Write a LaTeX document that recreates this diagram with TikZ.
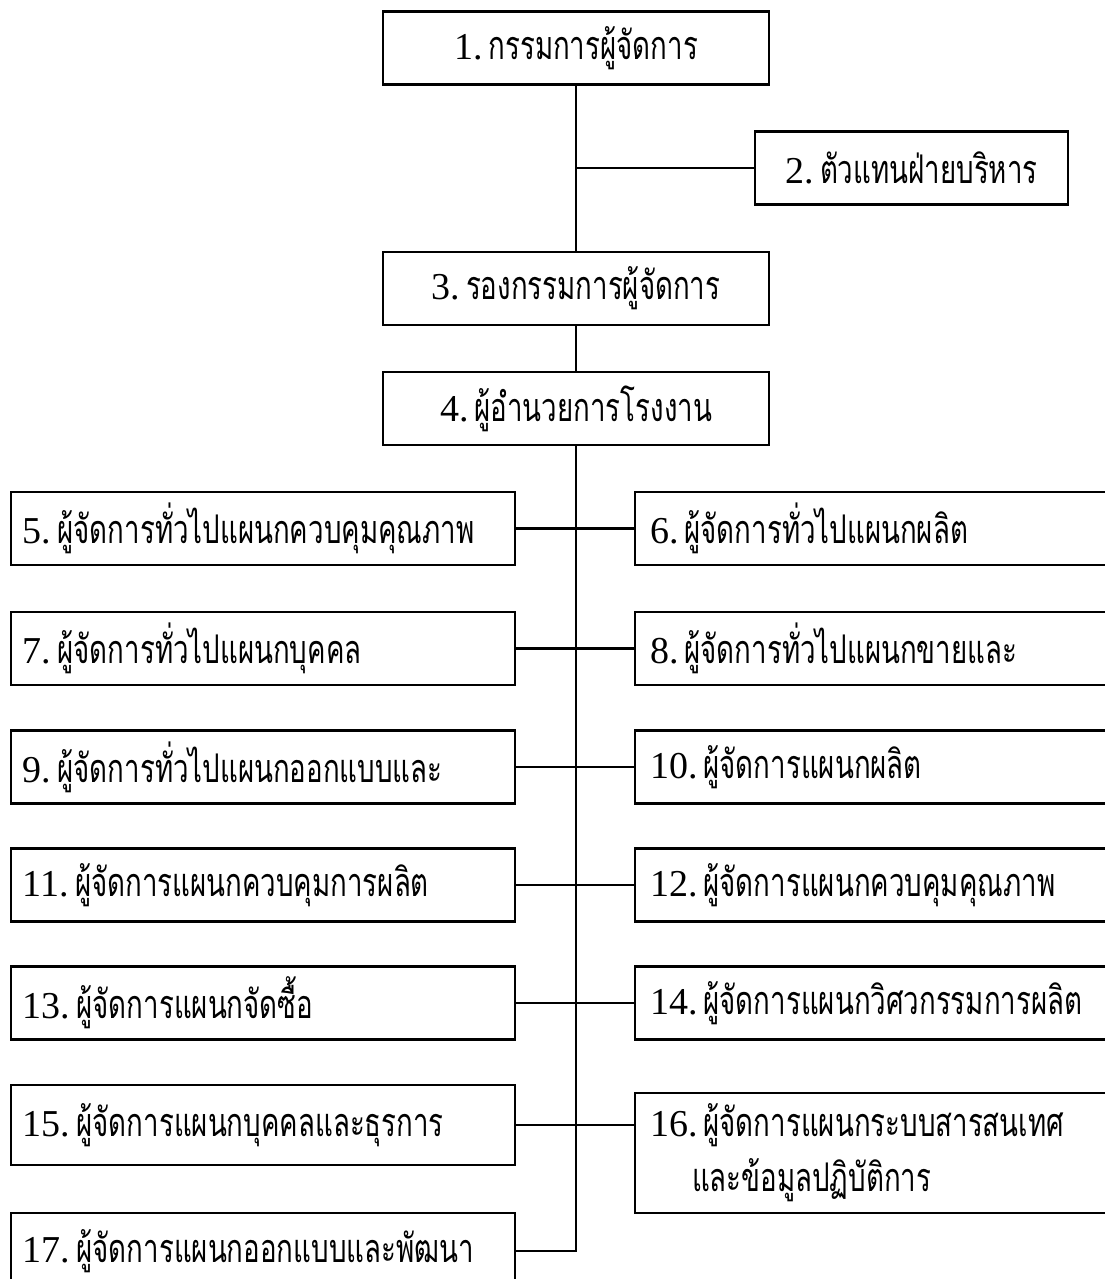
\documentclass[tikz,border=0pt]{standalone}
\usepackage{fontspec}
\setmainfont{Liberation Serif}
\newfontfamily\thaifont[Script=Thai,FakeStretch=0.7,Scale=1.04]{Loma}
\usetikzlibrary{positioning}

\tikzset{
    post/.style={draw, line width=1.2pt, minimum height=36.5pt, inner ysep=0pt,
        font=\fontsize{19}{27.5}\selectfont},
    toppost/.style={post, minimum width=193pt},
    leftpost/.style={post, inner xsep=6pt, text width=240pt, align=left},
    rightpost/.style={post, inner xsep=7.5pt, text width=237pt, align=left},
    link/.style={line width=1.2pt}
}
\newcommand{\nr}[1]{#1.\hspace{3pt}\thaifont}

\begin{document}
\begin{tikzpicture}[x=0.5pt,y=-0.5pt]
            \useasboundingbox (0,0) rectangle (1104,1279);

            \node[toppost] (md) at (576,48) {\nr{1}กรรมการผู้จัดการ};
            \node[toppost, minimum width=156.5pt] (rep) at (911.5,168) {\nr{2}ตัวแทนฝ่ายบริหาร};
            \node[toppost] (dmd) at (576,288.5) {\nr{3}รองกรรมการผู้จัดการ};
            \node[toppost] (fd) at (576,408.5) {\nr{4}ผู้อำนวยการโรงงาน};

            \node[leftpost] (m5) at (263,528.5) {\nr{5}ผู้จัดการทั่วไปแผนกควบคุมคุณภาพ};
            \node[rightpost] (m6) at (887,528.5) {\nr{6}ผู้จัดการทั่วไปแผนกผลิต};
            \node[leftpost] (m7) at (263,648.5) {\nr{7}ผู้จัดการทั่วไปแผนกบุคคล};
            \node[rightpost] (m8) at (887,648.5) {\nr{8}ผู้จัดการทั่วไปแผนกขายและ};
            \node[leftpost] (m9) at (263,767) {\nr{9}ผู้จัดการทั่วไปแผนกออกแบบและ};
            \node[rightpost] (m10) at (887,767) {\nr{10}ผู้จัดการแผนกผลิต};
            \node[leftpost] (m11) at (263,885) {\nr{11}ผู้จัดการแผนกควบคุมการผลิต};
            \node[rightpost] (m12) at (887,885) {\nr{12}ผู้จัดการแผนกควบคุมคุณภาพ};
            \node[leftpost] (m13) at (263,1003) {\nr{13}ผู้จัดการแผนกจัดซื้อ};
            \node[rightpost] (m14) at (887,1003) {\nr{14}ผู้จัดการแผนกวิศวกรรมการผลิต};
            \node[leftpost, minimum height=40pt] (m15) at (263,1125) {\nr{15}ผู้จัดการแผนกบุคคลและธุรการ};
            \node[rightpost, minimum height=60pt] (m16) at (887,1153) {\nr{16}ผู้จัดการแผนกระบบสารสนเทศ\\
                \hspace*{21pt}\thaifont และข้อมูลปฏิบัติการ};
            \node[leftpost, minimum height=38pt] (m17) at (263,1251) {\nr{17}ผู้จัดการแผนกออกแบบและพัฒนา};

            \coordinate (j2) at (576,168);
            \coordinate (end) at (576,1251);

            % trunk
            \draw[link] (md) -- (j2) -- (dmd);
            \draw[link] (j2) -- (rep);
            \draw[link] (dmd) -- (fd);
            \draw[link] (fd) -- (end) -- (m17);

            % branches
            \draw[link] (m5) -- (m6);
            \draw[link] (m7) -- (m8);
            \draw[link] (m9) -- (m10);
            \draw[link] (m11) -- (m12);
            \draw[link] (m13) -- (m14);
            \draw[link] (m15.east) -- (m15.east -| m16.west);
\end{tikzpicture}
\end{document}
